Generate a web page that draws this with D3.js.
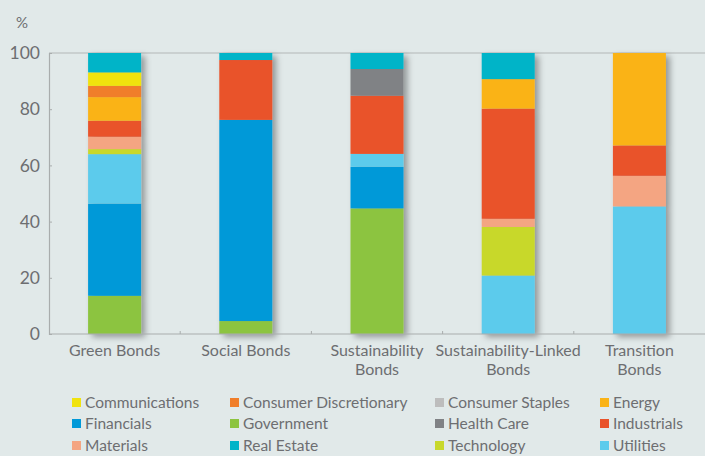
<!DOCTYPE html>
<html>
<head>
<meta charset="utf-8">
<script src="https://cdn.jsdelivr.net/npm/d3@7"></script>
<style>
  body { margin: 0; background: #e1e9e9; }
  svg { display: block; }
  text { font-family: Lato, "Open Sans", sans-serif; fill: #6d6e71; }
</style>
</head>
<body>
<div id="chart"></div>
<script>
var categories = ["Green Bonds", "Social Bonds", "Sustainability Bonds", "Sustainability-Linked Bonds", "Transition Bonds"];
var categoryLines = [["Green Bonds"], ["Social Bonds"], ["Sustainability", "Bonds"], ["Sustainability-Linked", "Bonds"], ["Transition", "Bonds"]];

// stacking order, bottom to top
var sectors = ["Government", "Financials", "Utilities", "Technology", "Materials", "Industrials",
               "Health Care", "Energy", "Consumer Staples", "Consumer Discretionary", "Communications", "Real Estate"];

var government   = [13.6, 4.6, 44.7, 0, 0];
var financials   = [32.8, 71.6, 14.8, 0, 0];
var utilities    = [17.6, 0, 4.6, 20.8, 45.4];
var technology   = [1.8, 0, 0, 17.3, 0];
var materials    = [4.4, 0, 0, 2.9, 10.9];
var industrials  = [5.7, 21.3, 20.7, 39.2, 10.8];
var healthCare   = [0, 0, 9.5, 0, 0];
var energy       = [8.4, 0, 0, 10.5, 32.9];
var consStaples  = [0, 0, 0, 0, 0];
var consDiscr    = [4.0, 0, 0, 0, 0];
var communications = [4.8, 0, 0, 0, 0];
var realEstate   = [6.9, 2.5, 5.7, 9.3, 0];

var yTicks = [0, 20, 40, 60, 80, 100];

var legendOrder = ["Communications", "Consumer Discretionary", "Consumer Staples", "Energy",
                   "Financials", "Government", "Health Care", "Industrials",
                   "Materials", "Real Estate", "Technology", "Utilities"];

var colors = {
  "Communications": "#f0e30f",
  "Consumer Discretionary": "#f07e2a",
  "Consumer Staples": "#bdbdbd",
  "Energy": "#fab317",
  "Financials": "#0099d8",
  "Government": "#8cc43f",
  "Health Care": "#808285",
  "Industrials": "#e9522a",
  "Materials": "#f4a582",
  "Real Estate": "#00b4c8",
  "Technology": "#c8d82c",
  "Utilities": "#5ccbec"
};

var seriesValues = {
  "Government": government, "Financials": financials, "Utilities": utilities,
  "Technology": technology, "Materials": materials, "Industrials": industrials,
  "Health Care": healthCare, "Energy": energy, "Consumer Staples": consStaples,
  "Consumer Discretionary": consDiscr, "Communications": communications, "Real Estate": realEstate
};

var rows = categories.map(function(c, i) {
  var r = { category: c };
  sectors.forEach(function(s) { r[s] = seriesValues[s][i]; });
  return r;
});

var width = 705, height = 456;
var margin = { top: 53, right: 0, bottom: 122, left: 49 };

var svg = d3.select("#chart").append("svg")
    .attr("width", width)
    .attr("height", height);

var defs = svg.append("defs");
var shadow = defs.append("filter")
    .attr("id", "shadow")
    .attr("x", "-20%").attr("y", "-5%")
    .attr("width", "150%").attr("height", "115%");
shadow.append("feDropShadow")
    .attr("dx", 4).attr("dy", 3)
    .attr("stdDeviation", 3)
    .attr("flood-color", "#000")
    .attr("flood-opacity", 0.35);

var x = d3.scaleBand()
    .domain(categories)
    .range([margin.left, width - margin.right])
    .paddingInner(0.596)
    .paddingOuter(0.298);

var y = d3.scaleLinear()
    .domain([0, 100])
    .range([height - margin.bottom, margin.top]);

// frame lines
svg.append("line")
    .attr("x1", margin.left).attr("x2", width)
    .attr("y1", y(100)).attr("y2", y(100))
    .attr("stroke", "#b3b7b7").attr("stroke-width", 1.2);

var stack = d3.stack().keys(sectors);
var stacked = stack(rows);

var bars = svg.append("g");

// one group per category so the shadow is cast by the whole column
categories.forEach(function(c, i) {
  var g = bars.append("g").attr("filter", "url(#shadow)");
  stacked.forEach(function(layer) {
    var d = layer[i];
    if (d[1] - d[0] <= 0) return;
    g.append("rect")
        .attr("x", x(c))
        .attr("width", x.bandwidth())
        .attr("y", y(d[1]))
        .attr("height", y(d[0]) - y(d[1]))
        .attr("fill", colors[layer.key]);
  });
});

// y axis
var yAxis = svg.append("g")
    .attr("transform", "translate(" + margin.left + ",0)")
    .call(d3.axisLeft(y).tickValues(yTicks).tickSize(-3).tickPadding(9));
yAxis.select(".domain").attr("stroke", "#a9adad").attr("stroke-width", 1.2);
yAxis.selectAll(".tick line").attr("stroke", "#a9adad");
yAxis.selectAll("text")
    .style("font-size", "17.5px")
    .attr("fill", "#6d6e71");

svg.append("text")
    .attr("x", 22)
    .attr("y", 28)
    .attr("text-anchor", "middle")
    .style("font-size", "15px")
    .text("%");

// x axis baseline and ticks between categories
var base = y(0);
svg.append("line")
    .attr("x1", margin.left).attr("x2", width)
    .attr("y1", base).attr("y2", base)
    .attr("stroke", "#a9adad").attr("stroke-width", 1.2);

var step = x.step();
svg.append("g").selectAll("line")
    .data(categories.slice(1))
    .join("line")
    .attr("x1", function(c) { return x(c) - (step - x.bandwidth()) / 2; })
    .attr("x2", function(c) { return x(c) - (step - x.bandwidth()) / 2; })
    .attr("y1", base).attr("y2", base - 3)
    .attr("stroke", "#a9adad");

var labels = svg.append("g");
categories.forEach(function(c, i) {
  var t = labels.append("text")
      .attr("x", x(c) + x.bandwidth() / 2)
      .attr("y", base + 22)
      .attr("text-anchor", "middle")
      .style("font-size", "16px");
  categoryLines[i].forEach(function(line, j) {
    t.append("tspan")
        .attr("x", x(c) + x.bandwidth() / 2)
        .attr("dy", j === 0 ? 0 : 19)
        .text(line);
  });
});

// legend
var legendX = [72, 230, 435, 600];
var legendY = [403, 424, 446];
var legend = svg.append("g");
legendOrder.forEach(function(name, i) {
  var col = i % 4, row = Math.floor(i / 4);
  var g = legend.append("g")
      .attr("transform", "translate(" + legendX[col] + "," + legendY[row] + ")");
  g.append("rect")
      .attr("x", 0).attr("y", -5)
      .attr("width", 9).attr("height", 9)
      .attr("fill", colors[name]);
  g.append("text")
      .attr("x", 13)
      .attr("y", 5)
      .style("font-size", "15.5px")
      .attr("fill", "#77787b")
      .text(name);
});
</script>
</body>
</html>
